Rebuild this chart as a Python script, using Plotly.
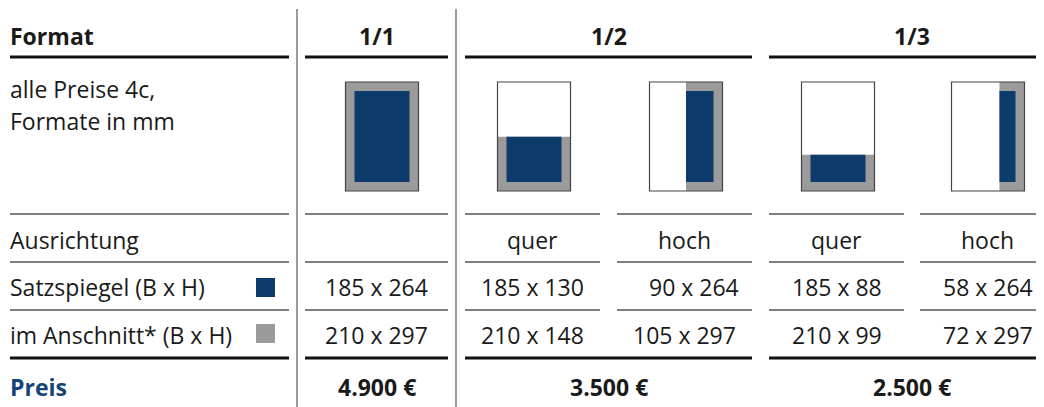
import plotly.graph_objects as go

# ---------------- data ----------------
formats = ["1/1", "1/2", "1/3"]
format_span = [(0, 0), (1, 2), (3, 4)]          # which sub-columns each format spans
orientations = ["", "quer", "hoch", "quer", "hoch"]
satzspiegel = ["185 x 264", "185 x 130", "90 x 264", "185 x 88", "58 x 264"]
anschnitt = ["210 x 297", "210 x 148", "105 x 297", "210 x 99", "72 x 297"]
prices = ["4.900 €", "3.500 €", "2.500 €"]
page_size = (210, 297)  # B x H of full page (mm)
row_labels = ["Format", "alle Preise 4c,", "Formate in mm", "Ausrichtung",
              "Satzspiegel (B x H)", "im Anschnitt* (B x H)", "Preis"]

# ---------------- style / layout ----------------
W, H = 1044, 407
OFF = 8  # default page body margin
FONT = "Open Sans"
FS = 23
BLUE = "#0d3b6b"
PREIS_BLUE = "#15447a"
GRAY = "#9b9b9b"
TXT = "#1a1a1a"

label_col = (10, 289)
cols = [(305, 448), (465, 600), (617, 752), (769, 904), (920, 1055)]
icon_cx = [382, 534, 686, 838, 988]
icon_w, icon_h, icon_top = 73, 109, 82
margin = 9
vlines_x = [297, 456]
header_y = 36
row_y = {"intro1": 89, "intro2": 121, "orient": 240, "satz": 287, "ansch": 335, "price": 387}
thick_y = [57, 358]
thin_y = [214, 262, 310]
cell_xshift = [0, 0, 9, 0, 0]

fig = go.Figure()
fig.add_trace(go.Scatter(x=[OFF, W], y=[OFF, H], mode="markers",
                         marker=dict(opacity=0), hoverinfo="skip", showlegend=False))

shapes = []
annos = []


def line(x0, x1, y, w, c):
    shapes.append(dict(type="line", xref="x", yref="y", x0=x0, x1=x1, y0=y, y1=y,
                       line=dict(color=c, width=w)))


def text(x, y, s, anchor="center", bold=False, color=TXT, xshift=0):
    if anchor == "left":
        xshift -= 2
    annos.append(dict(x=x, y=y, xref="x", yref="y", text=s, showarrow=False,
                      xanchor=anchor, yanchor="middle", xshift=xshift,
                      font=dict(family=FONT, size=FS, color=color,
                                weight="bold" if bold else "normal")))


# vertical separators
for vx in vlines_x:
    shapes.append(dict(type="line", xref="x", yref="y", x0=vx, x1=vx, y0=9, y1=H,
                       line=dict(color="#666666", width=1.3)))

# group extents
groups = [label_col] + [(cols[a][0], cols[b][1]) for a, b in format_span]
for y in thick_y:
    for g in groups:
        line(g[0], g[1], y, 3, "#111111")
for y in thin_y:
    for g in [label_col] + cols:
        line(g[0], g[1], y, 1.3, "#555555")

# header
text(label_col[0], header_y, row_labels[0], anchor="left", bold=True)
for f, (a, b) in zip(formats, format_span):
    text((cols[a][0] + cols[b][1]) / 2, header_y, f, bold=True)

# row labels
text(label_col[0], row_y["intro1"], row_labels[1], anchor="left")
text(label_col[0], row_y["intro2"], row_labels[2], anchor="left")
text(label_col[0], row_y["orient"], row_labels[3], anchor="left")
text(label_col[0], row_y["satz"], row_labels[4], anchor="left")
text(label_col[0], row_y["ansch"], row_labels[5], anchor="left")
text(label_col[0], row_y["price"], row_labels[6], anchor="left", bold=True, color=PREIS_BLUE)

# legend squares
shapes.append(dict(type="rect", xref="x", yref="y", x0=256, x1=275, y0=278, y1=297,
                   fillcolor=BLUE, line=dict(width=0)))
shapes.append(dict(type="rect", xref="x", yref="y", x0=256, x1=275, y0=324, y1=343,
                   fillcolor=GRAY, line=dict(width=0)))

# cells
for i, (c0, c1) in enumerate(cols):
    cx = (c0 + c1) / 2
    text(cx, row_y["orient"], orientations[i])
    text(cx, row_y["satz"], satzspiegel[i], xshift=cell_xshift[i])
    text(cx, row_y["ansch"], anschnitt[i])

for p, (a, b) in zip(prices, format_span):
    text((cols[a][0] + cols[b][1]) / 2, row_y["price"], p, bold=True)

# icons (schematic page: bleed area gray, type area blue)
for i in range(len(cols)):
    bw, bh = [float(v) for v in anschnitt[i].split(" x ")]
    fx, fy = bw / page_size[0], bh / page_size[1]
    L = icon_cx[i] - icon_w / 2
    R = icon_cx[i] + icon_w / 2
    T = icon_top
    B = icon_top + icon_h
    gx0 = R - icon_w * fx
    gy0 = B - icon_h * fy
    shapes.append(dict(type="rect", xref="x", yref="y", x0=L, x1=R, y0=T, y1=B,
                       fillcolor="white", line=dict(width=0)))
    shapes.append(dict(type="rect", xref="x", yref="y", x0=gx0, x1=R, y0=gy0, y1=B,
                       fillcolor=GRAY, line=dict(width=0)))
    bx0 = gx0 + (margin if fx > 0.99 else 0)
    by0 = gy0 + (margin if fy > 0.99 else 0)
    shapes.append(dict(type="rect", xref="x", yref="y", x0=bx0, x1=R - margin,
                       y0=by0, y1=B - margin, fillcolor=BLUE, line=dict(width=0)))
    shapes.append(dict(type="rect", xref="x", yref="y", x0=L, x1=R, y0=T, y1=B,
                       fillcolor="rgba(0,0,0,0)", line=dict(color="#444444", width=1.2)))

fig.update_layout(
    width=W - OFF, height=H - OFF, margin=dict(l=0, r=0, t=0, b=0),
    paper_bgcolor="white", plot_bgcolor="white",
    xaxis=dict(range=[OFF, W], visible=False, fixedrange=True),
    yaxis=dict(range=[H, OFF], visible=False, fixedrange=True),
    shapes=shapes, annotations=annos, showlegend=False,
)
fig.write_html("out.html")
